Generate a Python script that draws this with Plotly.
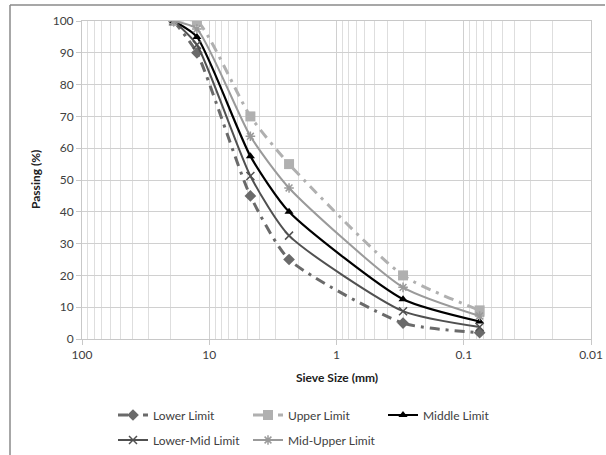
import plotly.graph_objects as go

sieve_mm = [19, 12.5, 4.75, 2.36, 0.3, 0.075]
lower_limit = [100, 90, 45, 25, 5, 2]
upper_limit = [100, 100, 70, 55, 20, 9]
middle_limit = [100, 95, 57.5, 40, 12.5, 5.5]
lower_mid_limit = [100, 92.5, 51.25, 32.5, 8.75, 3.75]
mid_upper_limit = [100, 97.5, 63.75, 47.5, 16.25, 7.25]

x_tick_vals = [100, 10, 1, 0.1, 0.01]
x_tick_text = ["100", "10", "1", "0.1", "0.01"]
y_tick_vals = [0, 10, 20, 30, 40, 50, 60, 70, 80, 90, 100]

FONT = "Lato"
W, H = 606, 455
L, R, T, B = 82, 15, 21, 116
pw, ph = W - L - R, H - T - B

minor_vals = []
for dec in [0.01, 0.1, 1, 10]:
    for m in range(2, 10):
        minor_vals.append(dec * m)

fig = go.Figure()

def add(name, y, color, dash, width, symbol, msize, legend, mline=None):
    marker = dict(symbol=symbol, size=msize, color=color)
    if mline:
        marker["line"] = dict(color=color, width=mline)
    fig.add_trace(go.Scatter(
        x=sieve_mm, y=y, name=name, mode="lines+markers",
        line=dict(color=color, width=width, dash=dash, shape="spline", smoothing=0.6),
        marker=marker, legend=legend,
    ))

add("Lower Limit", lower_limit, "#6a6a6a", "10px,6px,3px,6px", 3, "diamond", 9, "legend")
add("Upper Limit", upper_limit, "#b0b0b0", "10px,6px,3px,6px", 3, "square", 10, "legend")
add("Middle Limit", middle_limit, "#000000", "solid", 2.2, "triangle-up", 8, "legend")
add("Lower-Mid Limit", lower_mid_limit, "#505050", "solid", 2, "x-thin-open", 8, "legend2", mline=1.5)
add("Mid-Upper Limit", mid_upper_limit, "#9a9a9a", "solid", 2, "asterisk-open", 8, "legend2", mline=1.5)

def px_x(p):
    return (p - L) / pw

def px_y(p):
    return (H - B - p) / ph

axis_font = dict(family=FONT, size=12, color="#404040")
title_font = dict(family=FONT, size=12, color="#202020")
fig.update_layout(
    width=W, height=H,
    margin=dict(l=L, r=R, t=T, b=B, autoexpand=False),
    paper_bgcolor="white", plot_bgcolor="white",
    font=dict(family=FONT, size=12, color="#404040"),
    xaxis=dict(
        type="log", range=[2, -2], tickvals=x_tick_vals, ticktext=x_tick_text,
        showgrid=True, gridcolor="#d0d0d0", gridwidth=1.2,
        minor=dict(tickvals=minor_vals, showgrid=True, gridcolor="#dedede", gridwidth=1, ticks=""),
        ticks="outside", ticklen=5, tickcolor="#c8c8c8",
        showline=True, linecolor="#c8c8c8", mirror=True,
        tickfont=axis_font, zeroline=False, automargin=False,
    ),
    yaxis=dict(
        range=[0, 100], tickvals=y_tick_vals,
        showgrid=True, gridcolor="#d0d0d0", gridwidth=1.2,
        ticks="outside", ticklen=5, tickcolor="#c8c8c8",
        showline=True, linecolor="#c8c8c8", mirror=True,
        tickfont=axis_font, zeroline=False, automargin=False,
    ),
    legend=dict(orientation="h", x=px_x(113), xanchor="left", y=px_y(415), yanchor="middle",
                entrywidth=90, font=dict(family=FONT, size=12, color="#404040"), bgcolor="rgba(0,0,0,0)"),
    legend2=dict(orientation="h", x=px_x(113), xanchor="left", y=px_y(440), yanchor="middle",
                 entrywidth=90, font=dict(family=FONT, size=12, color="#404040"), bgcolor="rgba(0,0,0,0)"),
    annotations=[
        dict(text="<b>Sieve Size (mm)</b>", xref="paper", yref="paper", x=px_x(337), y=px_y(377),
             xanchor="center", yanchor="middle", showarrow=False, font=title_font),
        dict(text="<b>Passing (%)</b>", xref="paper", yref="paper", x=px_x(35), y=px_y(180),
             xanchor="center", yanchor="middle", showarrow=False, textangle=-90, font=title_font),
    ],
    shapes=[
        dict(type="line", xref="paper", yref="paper", x0=px_x(10), x1=px_x(605), y0=px_y(5), y1=px_y(5),
             line=dict(color="#8a8a8a", width=1.5)),
        dict(type="line", xref="paper", yref="paper", x0=px_x(10), x1=px_x(10), y0=px_y(5), y1=px_y(455),
             line=dict(color="#8a8a8a", width=1.5)),
    ],
)

fig.write_html("out.html", config={"displayModeBar": False},
               post_script="document.body.style.margin='0';document.body.style.overflow='hidden';")
